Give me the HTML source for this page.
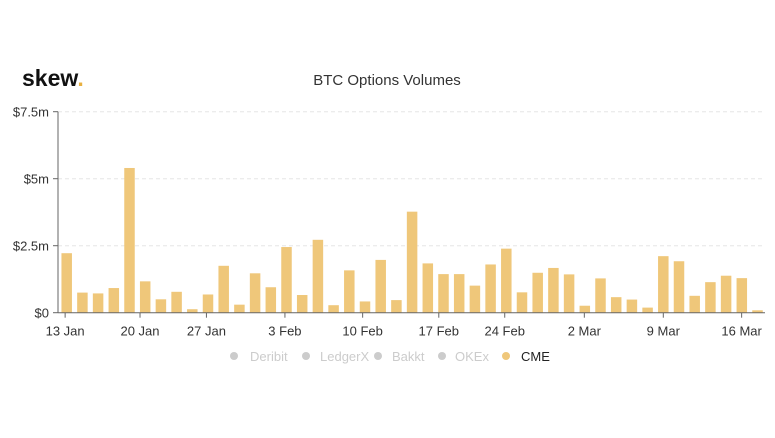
<!DOCTYPE html>
<html><head><meta charset="utf-8"><style>
body{margin:0;background:#fff;width:775px;height:433px;overflow:hidden;font-family:"Liberation Sans",sans-serif}
svg text{font-family:"Liberation Sans",sans-serif}
</style></head><body>
<svg id="c" width="775" height="433">
<text x="22" y="86" font-size="23" font-weight="bold" fill="#111">skew<tspan fill="#e8b040">.</tspan></text>
<text x="387" y="85" font-size="15" fill="#333" text-anchor="middle">BTC Options Volumes</text>
<g id="grid"></g><g id="bars"></g><g id="axes"></g>
<g font-size="13">
<g><circle cx="234" cy="356" r="4" fill="#ccc"/><text x="250" y="361" fill="#ccc">Deribit</text></g>
<g><circle cx="306" cy="356" r="4" fill="#ccc"/><text x="320" y="361" fill="#ccc">LedgerX</text></g>
<g><circle cx="378" cy="356" r="4" fill="#ccc"/><text x="392" y="361" fill="#ccc">Bakkt</text></g>
<g><circle cx="442" cy="356" r="4" fill="#ccc"/><text x="455" y="361" fill="#ccc">OKEx</text></g>
<g><circle cx="506" cy="356" r="4" fill="#efc77a"/><text x="521" y="361" fill="#222">CME</text></g>
</g>
</svg>
<script>
const values=[2.22,0.75,0.72,0.92,5.4,1.17,0.5,0.78,0.13,0.68,1.75,0.3,1.47,0.95,2.45,0.66,2.72,0.28,1.58,0.42,1.97,0.47,3.77,1.84,1.44,1.44,1.01,1.80,2.39,0.76,1.49,1.67,1.43,0.26,1.28,0.58,0.49,0.19,2.11,1.92,0.63,1.14,1.38,1.29,0.09];
const yTicks=[0,2.5,5,7.5];
const yTickLabels=["$0","$2.5m","$5m","$7.5m"];
const xTickIndex=[-0.1,4.67,8.9,13.9,18.85,23.7,27.9,32.97,38.0,42.99];
const xTickLabels=["13 Jan","20 Jan","27 Jan","3 Feb","10 Feb","17 Feb","24 Feb","2 Mar","9 Mar","16 Mar"];
const NS="http://www.w3.org/2000/svg";
const x0=66.7,step=15.7,bw=10.5,yBase=312.7,pxPer=67/2.5;
const xs=i=>x0+i*step, ys=v=>yBase-v*pxPer;
function mk(t,a,p){const e=document.createElementNS(NS,t);for(const k in a)e.setAttribute(k,a[k]);p.appendChild(e);return e;}
const g=document.getElementById('grid'),b=document.getElementById('bars'),ax=document.getElementById('axes');
yTicks.forEach((v,i)=>{
 if(v>0){const l=mk('line',{x1:58,x2:765,y1:ys(v),y2:ys(v),stroke:'#e6e6e6','stroke-dasharray':'4,3'},g);
 
 }
 const t=mk('text',{x:49,y:ys(v)+5,'font-size':13,fill:'#333','text-anchor':'end'},ax);t.textContent=yTickLabels[i];
 
 
 mk('line',{x1:53,x2:58,y1:ys(v),y2:ys(v),stroke:'#666'},ax);
});
values.forEach((v,i)=>{
 const r=mk('rect',{x:xs(i)-bw/2,y:ys(v),width:bw,height:yBase-ys(v),fill:'#efc77a'},b);
 
 
});
const ya=mk('line',{x1:58,x2:58,y1:ys(7.5),y2:yBase,stroke:'#666'},ax);


const xa=mk('line',{x1:58,x2:765,y1:yBase,y2:yBase,stroke:'#666'},ax);


xTickIndex.forEach((ix,i)=>{
 const x=xs(ix);
 mk('line',{x1:x,x2:x,y1:yBase,y2:yBase+5,stroke:'#666'},ax);
 const t=mk('text',{x:x,y:yBase+23,'font-size':13,fill:'#333','text-anchor':'middle'},ax);t.textContent=xTickLabels[i];
 
 
});
</script>
</body></html>
